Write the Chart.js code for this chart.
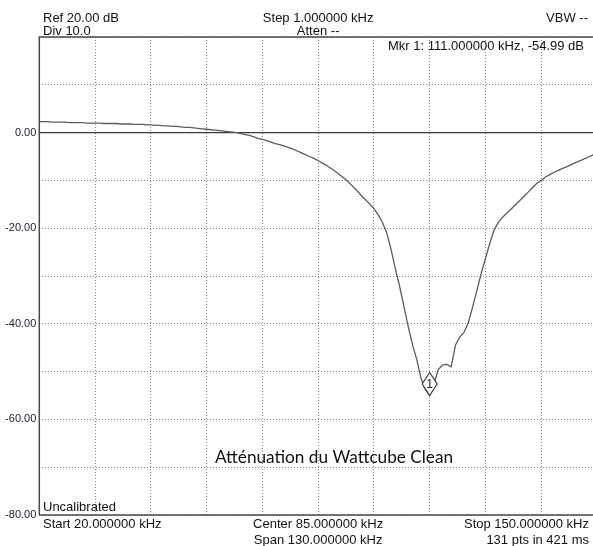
<!DOCTYPE html>
<html><head><meta charset="utf-8">
<script src="https://cdn.jsdelivr.net/npm/chart.js@4.4.1/dist/chart.umd.min.js"></script>
<style>html,body{margin:0;padding:0;overflow:hidden;background:#fff}#wrap{width:600px;height:546px;position:relative}</style>
</head><body><div id="wrap"><canvas id="c" width="600" height="546"></canvas></div>
<script>
// Sweep frequencies (kHz), 131 points
const freqKHz = [20,21,22,23,24,25,26,27,28,29,30,31,32,33,34,35,36,37,38,39,40,41,42,43,44,45,46,47,48,49,
50,51,52,53,54,55,56,57,58,59,60,61,62,63,64,65,66,67,68,69,70,71,72,73,74,75,76,77,78,79,
80,81,82,83,84,85,86,87,88,89,90,91,92,93,94,95,96,97,98,99,100,101,102,103,104,105,106,107,108,109,
110,111,112,113,114,115,116,117,118,119,120,121,122,123,124,125,126,127,128,129,130,131,132,133,134,135,136,137,138,139,
140,141,142,143,144,145,146,147,148,149,150];
// Measured level (dB)
const levelDb = [2.3,2.3,2.3,2.2,2.2,2.2,2.2,2.1,2.1,2.1,2.1,2.0,2.0,2.0,2.0,1.9,1.9,1.9,1.9,1.8,
1.8,1.8,1.7,1.7,1.7,1.6,1.6,1.5,1.5,1.4,1.4,1.3,1.3,1.2,1.1,1.1,1.0,0.9,0.8,0.7,
0.6,0.5,0.4,0.3,0.2,0.1,0.0,-0.2,-0.4,-0.6,-0.9,-1.2,-1.4,-1.7,-2.0,-2.3,-2.5,-2.8,-3.1,-3.4,
-3.8,-4.2,-4.6,-5.0,-5.4,-5.9,-6.4,-6.9,-7.5,-8.1,-8.8,-9.5,-10.3,-11.2,-12.1,-13.1,-14.0,-14.9,-15.9,-17.2,
-18.8,-21.0,-24.5,-28.5,-32.2,-36.4,-40.6,-44.4,-47.5,-51.5,-53.8,-54.99,-52.6,-49.6,-48.6,-48.5,-49.0,-44.5,-42.8,-41.8,
-39.8,-36.5,-33.0,-29.5,-26.3,-23.2,-20.4,-18.8,-17.7,-16.8,-16.0,-15.1,-14.2,-13.3,-12.4,-11.5,-10.6,-10.0,-9.3,-8.8,
-8.3,-7.9,-7.5,-7.1,-6.7,-6.3,-5.9,-5.5,-5.1,-4.7,-4.3];
const markerFreq = 111;
const markerLevel = -54.99;
const markerLabel = '1';
const refLevel = 0;
const yTickValues = [0, -20, -40, -60, -80];
const yTickLabels = ['0.00', '-20.00', '-40.00', '-60.00', '-80.00'];
const textRef = 'Ref 20.00 dB';
const textDiv = 'Div 10.0';
const textStep = 'Step 1.000000 kHz';
const textAtten = 'Atten --';
const textVbw = 'VBW --';
const textMkr = 'Mkr 1: 111.000000 kHz, -54.99 dB';
const textUncal = 'Uncalibrated';
const textStart = 'Start 20.000000 kHz';
const textCenter = 'Center 85.000000 kHz';
const textSpan = 'Span 130.000000 kHz';
const textStop = 'Stop 150.000000 kHz';
const textPts = '131 pts in 421 ms';
const textTitle = 'Atténuation du Wattcube Clean';

const points = freqKHz.map((f, i) => ({x: f, y: levelDb[i]}));

const overlay = {
  id: 'overlay',
  beforeDatasetsDraw(chart) {
    const {ctx, chartArea: a, scales: {y}} = chart;
    const y0 = y.getPixelForValue(refLevel);
    ctx.save();
    ctx.strokeStyle = '#3a3a3a';
    ctx.lineWidth = 1.3;
    ctx.beginPath(); ctx.moveTo(a.left, y0); ctx.lineTo(a.right, y0); ctx.stroke();
    ctx.strokeStyle = '#4a4a4a';
    ctx.lineWidth = 1.5;
    ctx.beginPath();
    ctx.moveTo(a.left, a.bottom); ctx.lineTo(a.left, a.top); ctx.lineTo(a.right, a.top);
    ctx.moveTo(a.left, a.bottom); ctx.lineTo(a.right, a.bottom);
    ctx.stroke();
    ctx.restore();
  },
  afterDatasetsDraw(chart) {
    const {ctx, chartArea: a, scales: {x, y}} = chart;
    const mx = x.getPixelForValue(markerFreq);
    const my = y.getPixelForValue(markerLevel);
    ctx.save();
    ctx.beginPath();
    ctx.moveTo(mx, my); ctx.lineTo(mx - 7.5, my - 11.5); ctx.lineTo(mx, my - 23); ctx.lineTo(mx + 7.5, my - 11.5); ctx.closePath();
    ctx.fillStyle = '#fff'; ctx.fill();
    ctx.strokeStyle = '#333'; ctx.lineWidth = 1.1; ctx.stroke();
    ctx.fillStyle = '#222'; ctx.font = '12px "Liberation Sans", Arial, sans-serif';
    ctx.textAlign = 'center'; ctx.textBaseline = 'alphabetic';
    ctx.fillText(markerLabel, mx, my - 7);

    const cx = (a.left + a.right) / 2;
    ctx.font = '13px "Liberation Sans", Arial, sans-serif';
    ctx.fillStyle = '#111';
    ctx.textAlign = 'left';
    ctx.fillText(textRef, 43, 22);
    ctx.fillText(textDiv, 43, 35);
    ctx.fillText(textUncal, 43, 511);
    ctx.fillText(textStart, 43, 528);
    ctx.textAlign = 'center';
    ctx.fillText(textStep, cx, 22);
    ctx.fillText(textAtten, cx, 35);
    ctx.fillText(textCenter, cx, 528);
    ctx.fillText(textSpan, cx, 544);
    ctx.textAlign = 'right';
    ctx.fillText(textVbw, 588, 22);
    ctx.fillText(textMkr, 584, 50);
    ctx.fillText(textStop, 589, 528);
    ctx.fillText(textPts, 589, 544);

    // title, fitted to the reference width
    let fs = 18;
    ctx.font = fs + 'px Lato, "Open Sans", sans-serif';
    const w = ctx.measureText(textTitle).width;
    fs = fs * 238 / w;
    ctx.font = fs.toFixed(2) + 'px Lato, "Open Sans", sans-serif';
    ctx.textAlign = 'left';
    ctx.fillStyle = '#111';
    ctx.fillText(textTitle, 215, 463);
    ctx.restore();
  }
};

new Chart(document.getElementById('c'), {
  type: 'line',
  data: { datasets: [{
    data: points,
    borderColor: '#5c5c5c',
    borderWidth: 1.3,
    pointRadius: 0,
    tension: 0,
    fill: false
  }]},
  options: {
    responsive: false,
    animation: false,
    devicePixelRatio: 1,
    layout: { padding: { left: 0, right: 3, top: 37, bottom: 31 } },
    plugins: { legend: { display: false }, tooltip: { enabled: false } },
    scales: {
      x: {
        type: 'linear', min: 20, max: 150,
        afterFit: s => { s.height = 0; },
        ticks: { display: false, stepSize: 13 },
        afterBuildTicks: s => { s.ticks = freqKHz.filter(f => (f - 20) % 13 === 0).map(v => ({value: v})); },
        grid: { color: '#8a8a8a', lineWidth: 1, drawTicks: false },
        border: { display: false, dash: [1, 2] }
      },
      y: {
        min: -80, max: 20,
        afterFit: s => { s.width = 39.3; },
        ticks: {
          stepSize: 10, padding: 3, autoSkip: false,
          color: '#1c1c2a',
          font: { family: '"Liberation Sans", Arial, sans-serif', size: 11 },
          callback: v => { const i = yTickValues.indexOf(v); return i >= 0 ? yTickLabels[i] : ''; }
        },
        grid: { color: '#8a8a8a', lineWidth: 1, drawTicks: false },
        border: { display: false, dash: [1, 2] }
      }
    }
  },
  plugins: [overlay]
});
</script>
</body></html>
